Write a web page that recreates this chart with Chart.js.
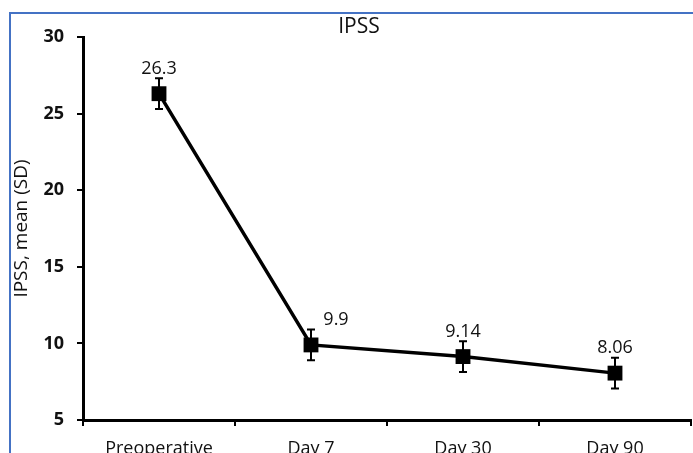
<!DOCTYPE html>
<html>
<head>
<meta charset="utf-8">
<script src="https://cdn.jsdelivr.net/npm/chart.js@4.4.1/dist/chart.umd.min.js"></script>
<style>
  html, body { margin: 0; padding: 0; background: #fff; overflow: hidden; }
  .wrap { position: relative; width: 693px; height: 453px; overflow: hidden; }
  .frame { position: absolute; left: 9px; top: 12px; right: -10px; bottom: -10px;
           border-left: 2px solid #4472c4; border-top: 2px solid #4472c4; }
  canvas { position: absolute; left: 0; top: 0; }
</style>
</head>
<body>
<div class="wrap">
  <div class="frame"></div>
  <canvas id="ipss-chart" width="693" height="470"></canvas>
</div>
<script>
  const chartTitle = 'IPSS';
  const categories = ['Preoperative', 'Day 7', 'Day 30', 'Day 90'];
  const ipssMean = [26.3, 9.9, 9.14, 8.06];
  const ipssSd = [1, 1, 1, 1];
  const valueLabels = ['26.3', '9.9', '9.14', '8.06'];

  const FONT = '"Open Sans", "DejaVu Sans", sans-serif';

  // error bars (mean ± SD)
  const errorBars = {
    id: 'errorBars',
    afterDatasetsDraw(chart) {
      const ctx = chart.ctx;
      const yScale = chart.scales.y;
      const meta = chart.getDatasetMeta(0);
      ctx.save();
      ctx.strokeStyle = '#000';
      ctx.lineWidth = 2;
      meta.data.forEach((pt, i) => {
        const top = yScale.getPixelForValue(ipssMean[i] + ipssSd[i]);
        const bot = yScale.getPixelForValue(ipssMean[i] - ipssSd[i]);
        ctx.beginPath();
        ctx.moveTo(pt.x, top); ctx.lineTo(pt.x, bot);
        ctx.moveTo(pt.x - 4, top); ctx.lineTo(pt.x + 4, top);
        ctx.moveTo(pt.x - 4, bot); ctx.lineTo(pt.x + 4, bot);
        ctx.stroke();
      });
      ctx.restore();
    }
  };

  // value labels above the points + chart title (sits a bit right of centre in the original)
  const pointLabels = {
    id: 'pointLabels',
    afterDatasetsDraw(chart, args, opts) {
      const ctx = chart.ctx;
      const meta = chart.getDatasetMeta(0);
      ctx.save();
      ctx.font = '18px ' + FONT;
      ctx.fillStyle = '#111';
      ctx.textAlign = 'center';
      ctx.textBaseline = 'middle';
      meta.data.forEach((pt, i) => {
        const dx = (opts.dx && opts.dx[i]) || 0;
        ctx.fillText(valueLabels[i], pt.x + dx, pt.y - 25);
      });
      ctx.font = '21px ' + FONT;
      ctx.fillText(chartTitle, opts.titleX, opts.titleY);
      ctx.restore();
    }
  };

  new Chart(document.getElementById('ipss-chart'), {
    type: 'line',
    data: {
      labels: categories,
      datasets: [{
        data: ipssMean,
        borderColor: '#000',
        borderWidth: 3.5,
        backgroundColor: '#000',
        pointStyle: 'rect',
        pointRadius: 10.5,
        pointBorderWidth: 0,
        tension: 0,
        clip: false
      }]
    },
    options: {
      responsive: false,
      animation: false,
      layout: { autoPadding: false, padding: { top: 37, right: 2, bottom: 0, left: 0 } },
      plugins: {
        legend: { display: false },
        tooltip: { enabled: false },
        title: { display: false },
        pointLabels: { dx: [0, 25, 0, 0], titleX: 359, titleY: 27 }
      },
      scales: {
        x: {
          offset: true,
          afterFit: s => { s.height = 50; s.paddingLeft = 0; s.paddingRight = 0; },
          border: { color: '#000', width: 3 },
          grid: { offset: true, drawOnChartArea: false, drawTicks: true, tickLength: 6, tickColor: '#000', lineWidth: 2 },
          ticks: { color: '#111', padding: 12, font: { family: FONT, size: 18 } }
        },
        y: {
          min: 5,
          max: 30,
          afterFit: s => { s.width = 83; },
          border: { color: '#000', width: 3 },
          grid: { drawOnChartArea: false, drawTicks: true, tickLength: 6, tickColor: '#000', lineWidth: 2 },
          ticks: { stepSize: 5, color: '#111', padding: 13, font: { family: FONT, size: 18, weight: 'bold' } },
          title: {
            display: true,
            text: 'IPSS, mean (SD)',
            color: '#111',
            padding: { top: 10, bottom: 0 },
            font: { family: FONT, size: 19, weight: 'normal', lineHeight: 1.2 }
          }
        }
      }
    },
    plugins: [errorBars, pointLabels]
  });
</script>
</body>
</html>
